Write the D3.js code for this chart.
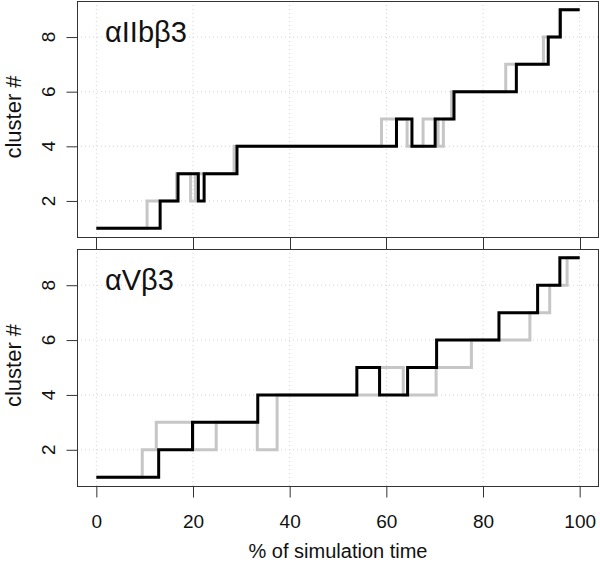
<!DOCTYPE html>
<html><head><meta charset="utf-8">
<script src="https://cdn.jsdelivr.net/npm/d3@7"></script>
<style>body{margin:0;background:#fff}svg{display:block}text{font-family:"Liberation Sans",Arial,sans-serif;fill:#111}</style>
</head><body>
<svg id="chart" width="600" height="568"></svg>
<script>
// Panel titles
const panelTitles = ["αIIbβ3", "αVβ3"];
// Step series: time (% of simulation) where cluster changes, and new cluster #
const topBlackTime  = [0, 13.2, 16.9, 21.1, 22.3, 29.1, 62.1, 65.3, 70.1, 74.0, 86.9, 93.5, 96.0, 100];
const topBlackValue = [1, 2, 3, 2, 3, 4, 5, 4, 5, 6, 7, 8, 9, 9];
const topGrayTime   = [0, 10.5, 16.6, 19.5, 20.5, 28.5, 59.0, 64.3, 67.6, 70.7, 71.8, 73.5, 84.7, 92.5, 95.8, 100];
const topGrayValue  = [1, 2, 3, 2, 3, 4, 5, 4, 5, 4, 5, 6, 7, 8, 9, 9];
const botBlackTime  = [0, 12.9, 19.9, 33.4, 53.9, 58.6, 64.4, 70.4, 83.3, 91.3, 95.9, 100];
const botBlackValue = [1, 2, 3, 4, 5, 4, 5, 6, 7, 8, 9, 9];
const botGrayTime   = [0, 9.5, 12.4, 20.0, 24.8, 33.3, 37.4, 58.6, 63.5, 70.3, 77.6, 89.7, 93.8, 97.4, 100];
const botGrayValue  = [1, 2, 3, 2, 3, 2, 4, 5, 4, 5, 6, 7, 8, 9, 9];
// Axis ticks
const xTicks = [0, 20, 40, 60, 80, 100];
const yTicks = [2, 4, 6, 8];
const xLabel = "% of simulation time";
const yLabel = "cluster #";

const svg = d3.select("#chart");
const left = 77, right = 599;
const panels = [
  {top: 1, bottom: 237, title: panelTitles[0],
   gray: d3.zip(topGrayTime, topGrayValue), black: d3.zip(topBlackTime, topBlackValue)},
  {top: 249, bottom: 486, title: panelTitles[1],
   gray: d3.zip(botGrayTime, botGrayValue), black: d3.zip(botBlackTime, botBlackValue)}
];
const x = d3.scaleLinear().domain([-4, 104]).range([left, right]);
const frameCol = "#333";

panels.forEach((p, i) => {
  const y = d3.scaleLinear().domain([0.68, 9.32]).range([p.bottom, p.top]);
  const g = svg.append("g");
  // grid
  g.selectAll(".gx").data(xTicks).enter().append("line")
    .attr("x1", d => x(d)).attr("x2", d => x(d))
    .attr("y1", p.top).attr("y2", p.bottom)
    .attr("stroke", "#d3d3d3").attr("stroke-dasharray", "1,3");
  g.selectAll(".gy").data(yTicks).enter().append("line")
    .attr("x1", left).attr("x2", right)
    .attr("y1", d => y(d)).attr("y2", d => y(d))
    .attr("stroke", "#d3d3d3").attr("stroke-dasharray", "1,3");
  // lines
  const line = d3.line().x(d => x(d[0])).y(d => y(d[1])).curve(d3.curveStepAfter);
  g.append("path").datum(p.gray).attr("d", line)
    .attr("fill", "none").attr("stroke", "#c6c6c6").attr("stroke-width", 3);
  g.append("path").datum(p.black).attr("d", line)
    .attr("fill", "none").attr("stroke", "#000").attr("stroke-width", 3);
  // frame
  g.append("rect").attr("x", left + 0.5).attr("y", p.top + 0.5)
    .attr("width", right - left - 1).attr("height", p.bottom - p.top)
    .attr("fill", "none").attr("stroke", frameCol).attr("stroke-width", 1);
  // y axis
  const ya = d3.axisLeft(y).tickValues(yTicks).tickSize(11).tickPadding(0).tickFormat(d3.format("d"));
  const yg = g.append("g").attr("transform", `translate(${left + 0.5},0)`).call(ya);
  yg.select(".domain").remove();
  yg.selectAll("line").attr("stroke", frameCol);
  yg.selectAll("text").attr("font-size", 19).attr("fill", "#111")
    .attr("text-anchor", "middle").attr("dy", 0).attr("x", 0).attr("y", 0)
    .attr("transform", d => `translate(${-23},${y(d)}) rotate(-90)`);
  yg.selectAll(".tick").attr("transform", null);
  yg.selectAll(".tick line").attr("transform", d => `translate(0,${y(d) + 0.5})`);
  // y label
  g.append("text").attr("transform", `translate(21,${(p.top + p.bottom) / 2 - 2}) rotate(-90)`)
    .attr("text-anchor", "middle").attr("font-size", 22).text(yLabel);
  // panel title
  g.append("text").attr("x", 105).attr("y", p.top + 41)
    .attr("font-size", 29).text(p.title);
});

// x ticks between panels and at bottom
svg.selectAll(".xt1").data(xTicks).enter().append("line")
  .attr("x1", d => Math.round(x(d)) + 0.5).attr("x2", d => Math.round(x(d)) + 0.5)
  .attr("y1", 237).attr("y2", 249).attr("stroke", frameCol);
const xa = d3.axisBottom(x).tickValues(xTicks).tickSize(11).tickPadding(17).tickFormat(d3.format("d"));
const xg = svg.append("g").attr("transform", "translate(0,486.5)").call(xa);
xg.select(".domain").remove();
xg.selectAll("line").attr("stroke", frameCol);
xg.selectAll("text").attr("font-size", 19).attr("fill", "#111");
svg.append("text").attr("x", x(50)).attr("y", 558).attr("text-anchor", "middle")
  .attr("font-size", 20).text(xLabel);
</script>
</body></html>
